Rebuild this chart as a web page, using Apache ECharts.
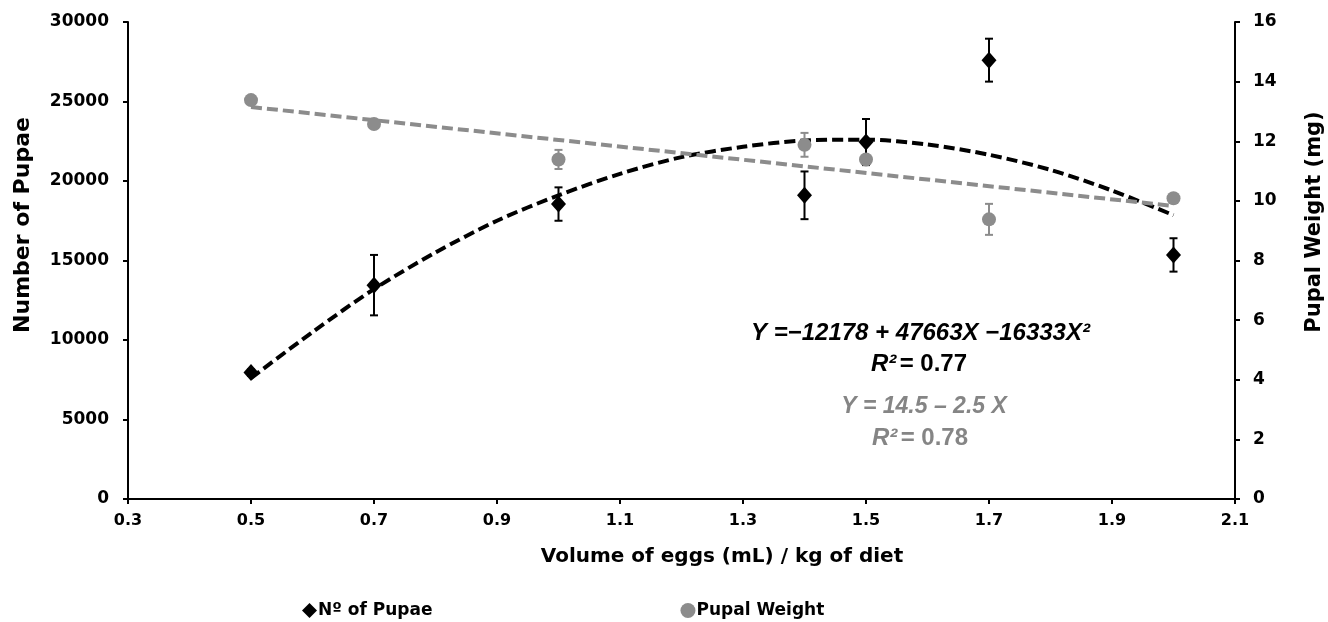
<!DOCTYPE html>
<html><head><meta charset="utf-8">
<script src="https://cdn.jsdelivr.net/npm/echarts@6/dist/echarts.min.js"></script>
<style>html,body{margin:0;padding:0;background:#fff}#c{width:1328px;height:622px}</style>
</head><body><div id="c"></div>
<script>
// ---- data ----
const volumes = [0.5, 0.7, 1.0, 1.4, 1.5, 1.7, 2.0];
const pupaeCount = [7950, 13450, 18550, 19100, 22450, 27600, 15350];
const pupaeErr = [200, 1900, 1050, 1500, 1450, 1350, 1050];
const pupalWeight = [13.38, 12.58, 11.39, 11.88, 11.39, 9.38, 10.09];
const weightErr = [0.08, 0.08, 0.32, 0.4, 0.08, 0.52, 0.12];
// fitted trend curves
const pupaeTrendX = [0.5, 0.6, 0.7, 0.8, 0.9, 1.0, 1.1, 1.2, 1.3, 1.4, 1.5, 1.6, 1.7, 1.8, 1.9, 2.0];
const pupaeTrendY = [7600, 10500, 13200, 15500, 17500, 19100, 20450, 21500, 22150, 22550, 22600, 22300, 21650, 20700, 19400, 17850];
const weightTrendX = [0.5, 2.0];
const weightTrendY = [13.15, 9.83];
const xTicks = [0.3, 0.5, 0.7, 0.9, 1.1, 1.3, 1.5, 1.7, 1.9, 2.1];
const seriesNames = ['N\u00ba of Pupae', 'Pupal Weight'];
const axisNames = ['Volume of eggs (mL) / kg of diet', 'Number of Pupae', 'Pupal Weight (mg)'];

const BLACK = '#000000', GRAY = '#8c8c8c', TEXTGRAY = '#858585';
const FONT = '"DejaVu Sans", sans-serif';
const EQFONT = '"Liberation Sans", Arial, sans-serif';

const pupaePts = volumes.map((x, i) => [x, pupaeCount[i]]);
const weightPts = volumes.map((x, i) => [x, pupalWeight[i]]);
const pupaeBars = volumes.map((x, i) => [x, pupaeCount[i] - pupaeErr[i], pupaeCount[i] + pupaeErr[i]]);
const weightBars = volumes.map((x, i) => [x, pupalWeight[i] - weightErr[i], pupalWeight[i] + weightErr[i]]);

function errRender(color) {
  return function (params, api) {
    const lo = api.coord([api.value(0), api.value(1)]);
    const hi = api.coord([api.value(0), api.value(2)]);
    const w = 4;
    const st = { stroke: color, lineWidth: 2 };
    return { type: 'group', children: [
      { type: 'line', shape: { x1: lo[0], y1: lo[1], x2: hi[0], y2: hi[1] }, style: st },
      { type: 'line', shape: { x1: lo[0] - w, y1: lo[1], x2: lo[0] + w, y2: lo[1] }, style: st },
      { type: 'line', shape: { x1: hi[0] - w, y1: hi[1], x2: hi[0] + w, y2: hi[1] }, style: st }
    ]};
  };
}

const labelStyle = (size) => ({ color: '#000', fontFamily: FONT, fontWeight: 'bold', fontSize: size });
const axisLineStyle = { show: true, lineStyle: { color: '#000', width: 2 } };
const tickStyle = { show: true, inside: false, length: 5, lineStyle: { color: '#000', width: 2 } };

const chart = echarts.init(document.getElementById('c'), null, { renderer: 'canvas' });
chart.setOption({
  animation: false,
  backgroundColor: '#fff',
  grid: { left: 128, right: 93, top: 22, bottom: 123, containLabel: false },
  xAxis: {
    type: 'value', min: 0.3, max: 2.1, interval: 0.2,
    axisLine: axisLineStyle,
    axisTick: Object.assign({ customValues: xTicks }, tickStyle),
    axisLabel: Object.assign({ customValues: xTicks, margin: 14, formatter: v => Number(v).toFixed(1) }, labelStyle(16)),
    splitLine: { show: false }
  },
  yAxis: [{
    type: 'value', min: 0, max: 30000, interval: 5000, position: 'left',
    axisLine: axisLineStyle, axisTick: tickStyle,
    axisLabel: Object.assign({ margin: 19, formatter: v => String(v) }, labelStyle(17)),
    splitLine: { show: false }
  }, {
    type: 'value', min: 0, max: 16, interval: 2, position: 'right',
    axisLine: axisLineStyle, axisTick: tickStyle,
    axisLabel: Object.assign({ margin: 18, formatter: v => String(v) }, labelStyle(17)),
    splitLine: { show: false }
  }],
  legend: {
    data: [
      { name: seriesNames[0], icon: 'diamond', itemStyle: { color: BLACK } },
      { name: seriesNames[1], icon: 'circle', itemStyle: { color: GRAY } }
    ],
    bottom: -2, left: 297, itemGap: 248, itemWidth: 15, itemHeight: 15,
    textStyle: Object.assign({ padding: [0, 0, 0, -4] }, labelStyle(17)),
    selectedMode: false
  },
  series: [
    { type: 'line', name: 'pupaeTrend', data: pupaeTrendX.map((x, i) => [x, pupaeTrendY[i]]), smooth: 0.3,
      showSymbol: false, symbol: 'none', lineStyle: { color: BLACK, width: 4, type: [11, 5] }, z: 3, silent: true },
    { type: 'line', name: 'weightTrend', yAxisIndex: 1, data: weightTrendX.map((x, i) => [x, weightTrendY[i]]),
      showSymbol: false, symbol: 'none', lineStyle: { color: GRAY, width: 4, type: [11, 5] }, z: 3, silent: true },
    { type: 'custom', name: 'pupaeErr', data: pupaeBars, renderItem: errRender(BLACK), z: 4, silent: true },
    { type: 'custom', name: 'weightErr', yAxisIndex: 1, data: weightBars, renderItem: errRender(GRAY), z: 4, silent: true },
    { type: 'scatter', name: seriesNames[0], data: pupaePts, symbol: 'diamond', symbolSize: [15, 17],
      itemStyle: { color: BLACK, opacity: 1 }, z: 5 },
    { type: 'scatter', name: seriesNames[1], yAxisIndex: 1, data: weightPts, symbol: 'circle', symbolSize: 14,
      itemStyle: { color: GRAY, opacity: 1 }, z: 5 }
  ],
  graphic: [
    { type: 'text', x: 722, y: 557, style: { text: axisNames[0], align: 'center', verticalAlign: 'middle',
        fill: '#000', font: 'bold 20px "DejaVu Sans", sans-serif' } },
    { type: 'text', x: 23, y: 225, rotation: Math.PI / 2, style: { text: axisNames[1], align: 'center', verticalAlign: 'middle',
        fill: '#000', font: 'bold 22px "DejaVu Sans", sans-serif' } },
    { type: 'text', x: 1315, y: 222, rotation: Math.PI / 2, style: { text: axisNames[2], align: 'center', verticalAlign: 'middle',
        fill: '#000', font: 'bold 21px "DejaVu Sans", sans-serif' } },
    { type: 'text', x: 751, y: 333, style: {
        text: 'Y =\u221212178 + 47663X \u221216333X\u00b2', align: 'left', verticalAlign: 'middle',
        fill: BLACK, font: 'italic bold 24px "Liberation Sans", Arial, sans-serif' } },
    { type: 'text', x: 919, y: 364, style: {
        text: '{i|R\u00b2} {n|= 0.77}', align: 'center', verticalAlign: 'middle',
        rich: {
          i: { fontFamily: EQFONT, fontWeight: 'bold', fontStyle: 'italic', fontSize: 24, fill: BLACK },
          n: { fontFamily: EQFONT, fontWeight: 'bold', fontSize: 24, fill: BLACK }
        } } },
    { type: 'text', x: 924, y: 407, style: {
        text: 'Y = 14.5 \u2013 2.5 X', align: 'center', verticalAlign: 'middle',
        fill: TEXTGRAY, font: 'italic bold 23px "Liberation Sans", Arial, sans-serif' } },
    { type: 'text', x: 920, y: 438, style: {
        text: '{i|R\u00b2} {n|= 0.78}', align: 'center', verticalAlign: 'middle',
        rich: {
          i: { fontFamily: EQFONT, fontWeight: 'bold', fontStyle: 'italic', fontSize: 24, fill: TEXTGRAY },
          n: { fontFamily: EQFONT, fontWeight: 'bold', fontSize: 24, fill: TEXTGRAY }
        } } }
  ]
});
</script></body></html>
